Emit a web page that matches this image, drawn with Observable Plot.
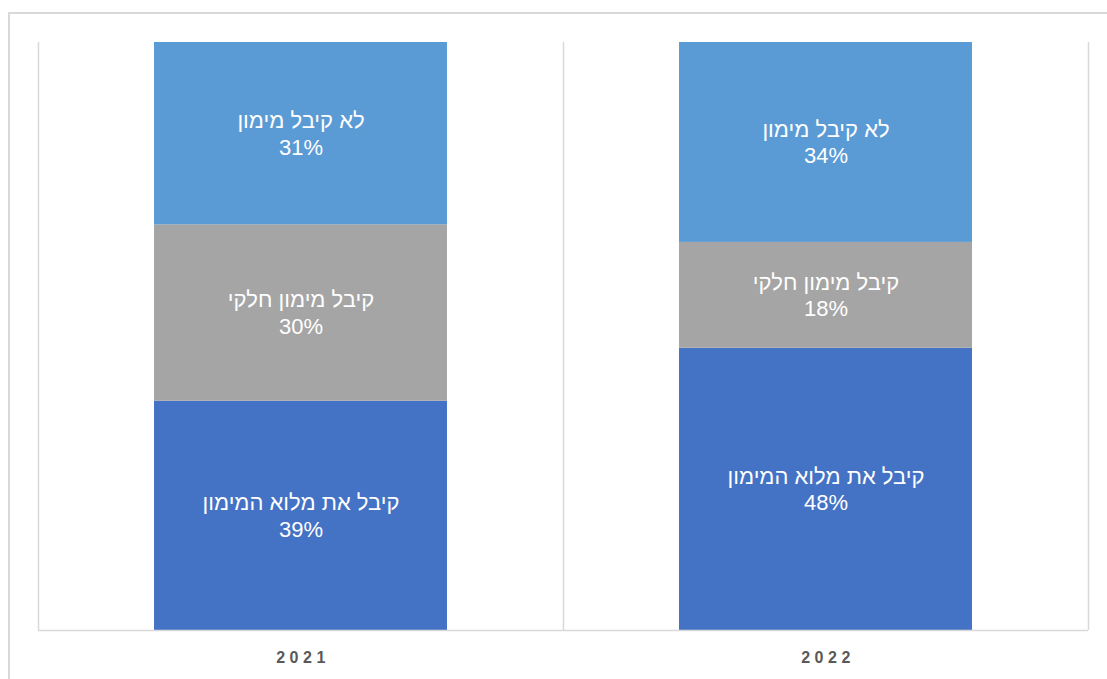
<!DOCTYPE html>
<html>
<head>
<meta charset="utf-8">
<script src="https://cdn.jsdelivr.net/npm/d3@7"></script>
<script src="https://cdn.jsdelivr.net/npm/@observablehq/plot@0.6"></script>
<style>
  html, body { margin: 0; padding: 0; background: #fff; overflow: hidden; width: 1107px; height: 679px; }
  #border { position: absolute; left: 8px; top: 12px; width: 1300px; height: 900px; border-left: 2px solid #d9d9d9; border-top: 2px solid #d9d9d9; }
  #chart { position: absolute; left: 0; top: 0; }
  .chart g[aria-label="x-axis tick label"] { font-size: 16px !important; font-weight: bold; }
  .chart g[aria-label="x-axis tick label"] text { letter-spacing: 4.5px; }
</style>
</head>
<body>
<div id="border"></div>
<div id="chart"></div>
<script>
const years = ["2021", "2022"];
const categories = ["קיבל את מלוא המימון", "קיבל מימון חלקי", "לא קיבל מימון"];
const values2021 = [39, 30, 31];
const values2022 = [48, 18, 34];
const colors = ["#4472C4", "#A5A5A5", "#5B9BD5"];

const seriesByYear = {"2021": values2021, "2022": values2022};
const rows = [];
for (const y of years) {
  categories.forEach((c, i) => rows.push({year: y, cat: c, value: seriesByYear[y][i]}));
}

const W = 1107, H = 679;
const ml = 38, mr = 19, mt = 42, mb = 49;
const step = (W - ml - mr) / years.length;
const inset = step * 0.221;

const chart = Plot.plot({
  width: W,
  height: H,
  marginLeft: ml,
  marginRight: mr,
  marginTop: mt,
  marginBottom: mb,
  className: "chart",
  style: {fontFamily: "'Liberation Sans', Arial, sans-serif", background: "transparent"},
  x: {domain: years, padding: 0, label: null, tickSize: 0, tickPadding: 22},
  y: {domain: [0, 100], axis: null},
  color: {domain: categories, range: colors},
  marks: [
    Plot.ruleX(years, {x: d => d, dx: -step / 2, stroke: "#d9d9d9", strokeWidth: 1.5}),
    Plot.ruleX([years[years.length - 1]], {x: d => d, dx: step / 2, stroke: "#d9d9d9", strokeWidth: 1.5}),
    Plot.barY(rows, Plot.stackY({x: "year", y: "value", fill: "cat", insetLeft: inset, insetRight: inset})),
    Plot.ruleY([0], {stroke: "#d9d9d9", strokeWidth: 1.5}),
    Plot.text(rows, Plot.stackY({
      x: "year", y: "value",
      text: d => d.cat + "\n" + d.value + "%",
      fill: "white", fontSize: 22, lineHeight: 1.22, dy: -1
    })),
    Plot.axisX({tickSize: 0, tickPadding: 21, fontSize: 16, fontWeight: "bold", fill: "#595959", dx: 2, label: null})
  ]
});
document.getElementById("chart").appendChild(chart);
</script>
</body>
</html>
